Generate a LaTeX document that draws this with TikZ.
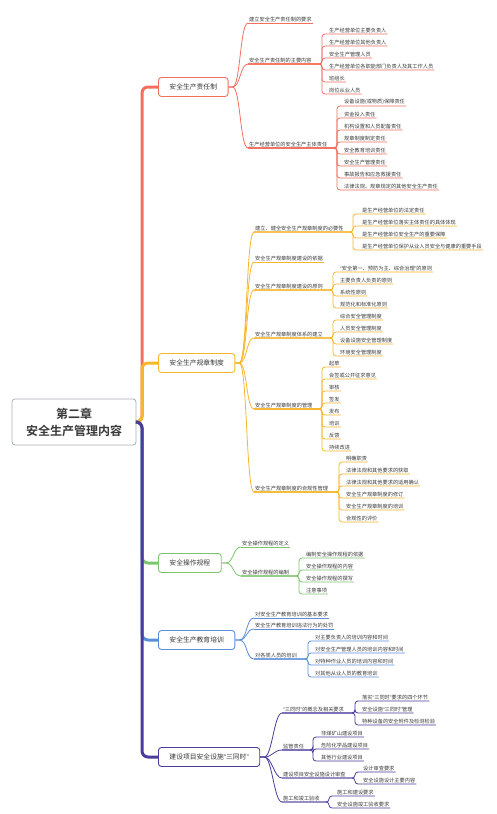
\documentclass[tikz,border=0pt]{standalone}
\usepackage{fontspec}
\setmainfont{Noto Sans CJK SC}[BoldFont={Noto Sans CJK SC Bold}]
\newfontfamily\quotefont{Liberation Sans}
\newcommand{\qopen}{{\quotefont “}}
\newcommand{\qclose}{{\quotefont ”}}
\definecolor{ink}{HTML}{3A3A3A}
\definecolor{rootgray}{HTML}{A9AEB5}
\definecolor{redc}{HTML}{F26E5F}
\definecolor{orangec}{HTML}{F7B52C}
\definecolor{greenc}{HTML}{7DC46F}
\definecolor{bluec}{HTML}{5B8ED9}
\definecolor{purplec}{HTML}{4B3B9B}

\begin{document}
\begin{tikzpicture}[
    x=1pt, y=-1pt,
    root/.style={draw=rootgray, fill=white, rounded corners=3pt, line width=0.8pt, minimum width=124pt, minimum height=46pt, align=center, text=ink, font=\fontsize{12}{17}\selectfont\bfseries},
    branch/.style={draw=#1, fill=white, rounded corners=3pt, line width=0.9pt, minimum height=19pt, minimum width=60pt, inner xsep=11pt, anchor=west, text=ink, font=\fontsize{6.8}{8}\selectfont},
    topic/.style={anchor=south west, inner xsep=1pt, inner ysep=1.2pt, text=ink, font=\fontsize{5.2}{6}\selectfont},
    trunk/.style={draw=#1, line width=3pt, rounded corners=6pt},
    curve/.style={draw=#1, line width=0.8pt},
    link/.style={draw=#1, line width=0.8pt, rounded corners=3pt}
]
    \useasboundingbox (0,0) rectangle (496,814);

    % Root and main branches
    \node[root] (root) at (74,422) {第二章\\安全生产管理内容};
    \node[branch=redc] (duty) at (158,87) {安全生产责任制};
    \node[branch=orangec] (rules) at (158,363) {安全生产规章制度};
    \node[branch=greenc] (ops) at (158,563) {安全操作规程};
    \node[branch=bluec] (edu) at (158,640) {安全生产教育培训};
    \node[branch=purplec] (tri) at (158,757) {建设项目安全设施\qopen 三同时\qclose};

    \draw[trunk=redc] (root.east) -- (142,422) |- (duty.west);
    \draw[trunk=orangec] (root.east) -- (142,422) |- (rules.west);
    \draw[trunk=greenc] (root.east) -- (142,422) |- (ops.west);
    \draw[trunk=bluec] (root.east) -- (142,422) |- (edu.west);
    \draw[trunk=purplec] (root.east) -- (142,422) |- (tri.west);

    % 安全生产责任制
    \node[topic] (duty1) at (248,23) {建立安全生产责任制的要求};
    \node[topic] (duty2) at (248,64) {安全生产责任制的主要内容};
    \node[topic] (duty3) at (248,148) {生产经营单位的安全生产主体责任};
    \node[topic] (duty2a) at (328,34) {生产经营单位主要负责人};
    \node[topic] (duty2b) at (328,46) {生产经营单位其他负责人};
    \node[topic] (duty2c) at (328,58) {安全生产管理人员};
    \node[topic] (duty2d) at (328,70) {生产经营单位各职能部门负责人及其工作人员};
    \node[topic] (duty2e) at (328,82) {班组长};
    \node[topic] (duty2f) at (328,94) {岗位从业人员};
    \node[topic] (duty3a) at (343,106) {设备设施(或物质)保障责任};
    \node[topic] (duty3b) at (343,118) {资金投入责任};
    \node[topic] (duty3c) at (343,130) {机构设置和人员配备责任};
    \node[topic] (duty3d) at (343,142) {规章制度制定责任};
    \node[topic] (duty3e) at (343,154) {安全教育培训责任};
    \node[topic] (duty3f) at (343,166) {安全生产管理责任};
    \node[topic] (duty3g) at (343,178) {事故报告和应急救援责任};
    \node[topic] (duty3h) at (343,190) {法律法规、规章规定的其他安全生产责任};

    \foreach \t in {duty1,duty2,duty3}
        \draw[curve=redc] (duty.east) -- ++(4,0) .. controls +(8,0) and +(-8,0) .. (\t.south west);
    \draw[link=redc] (duty1.south west) -- (duty1.south east);
    \foreach \t in {duty2a,duty2b,duty2c,duty2d,duty2e,duty2f}
        \draw[link=redc] (duty2.south west) -- (322,64) |- (\t.south east);
    \foreach \t in {duty3a,duty3b,duty3c,duty3d,duty3e,duty3f,duty3g,duty3h}
        \draw[link=redc] (duty3.south west) -- (337,148) |- (\t.south east);

    % 安全生产规章制度
    \node[topic] (rules1) at (254,232) {建立、健全安全生产规章制度的必要性};
    \node[topic] (rules2) at (254,262) {安全生产规章制度建设的依据};
    \node[topic] (rules3) at (254,290) {安全生产规章制度建设的原则};
    \node[topic] (rules4) at (254,338) {安全生产规章制度体系的建立};
    \node[topic] (rules5) at (254,409) {安全生产规章制度的管理};
    \node[topic] (rules6) at (254,492) {安全生产规章制度的合规性管理};
    \node[topic] (rules1a) at (361,214) {是生产经营单位的法定责任};
    \node[topic] (rules1b) at (361,226) {是生产经营单位落实主体责任的具体体现};
    \node[topic] (rules1c) at (361,238) {是生产经营单位安全生产的重要保障};
    \node[topic] (rules1d) at (361,250) {是生产经营单位保护从业人员安全与健康的重要手段};
    \node[topic] (rules3a) at (339,272) {\qopen 安全第一、预防为主、综合治理\qclose 的原则};
    \node[topic] (rules3b) at (339,284) {主要负责人负责的原则};
    \node[topic] (rules3c) at (339,296) {系统性原则};
    \node[topic] (rules3d) at (339,308) {规范化和标准化原则};
    \node[topic] (rules4a) at (339,320) {综合安全管理制度};
    \node[topic] (rules4b) at (339,332) {人员安全管理制度};
    \node[topic] (rules4c) at (339,344) {设备设施安全管理制度};
    \node[topic] (rules4d) at (339,356) {环境安全管理制度};
    \node[topic] (rules5a) at (328,367) {起草};
    \node[topic] (rules5b) at (328,379) {会签或公开征求意见};
    \node[topic] (rules5c) at (328,391) {审核};
    \node[topic] (rules5d) at (328,403) {签发};
    \node[topic] (rules5e) at (328,415) {发布};
    \node[topic] (rules5f) at (328,427) {培训};
    \node[topic] (rules5g) at (328,439) {反馈};
    \node[topic] (rules5h) at (328,451) {持续改进};
    \node[topic] (rules6a) at (345,462) {明确职责};
    \node[topic] (rules6b) at (345,474) {法律法规和其他要求的获取};
    \node[topic] (rules6c) at (345,486) {法律法规和其他要求的适用确认};
    \node[topic] (rules6d) at (345,498) {安全生产规章制度的修订};
    \node[topic] (rules6e) at (345,510) {安全生产规章制度的培训};
    \node[topic] (rules6f) at (345,522) {合规性的评价};

    \foreach \t in {rules1,rules2,rules3,rules4,rules5,rules6}
        \draw[curve=orangec] (rules.east) -- ++(4,0) .. controls +(8,0) and +(-8,0) .. (\t.south west);
    \draw[link=orangec] (rules2.south west) -- (rules2.south east);
    \foreach \t in {rules1a,rules1b,rules1c,rules1d}
        \draw[link=orangec] (rules1.south west) -- (353,232) |- (\t.south east);
    \foreach \t in {rules3a,rules3b,rules3c,rules3d}
        \draw[link=orangec] (rules3.south west) -- (333,290) |- (\t.south east);
    \foreach \t in {rules4a,rules4b,rules4c,rules4d}
        \draw[link=orangec] (rules4.south west) -- (333,338) |- (\t.south east);
    \foreach \t in {rules5a,rules5b,rules5c,rules5d,rules5e,rules5f,rules5g,rules5h}
        \draw[link=orangec] (rules5.south west) -- (322,409) |- (\t.south east);
    \foreach \t in {rules6a,rules6b,rules6c,rules6d,rules6e,rules6f}
        \draw[link=orangec] (rules6.south west) -- (339,492) |- (\t.south east);

    % 安全操作规程
    \node[topic] (ops1) at (241,547) {安全操作规程的定义};
    \node[topic] (ops2) at (241,576) {安全操作规程的编制};
    \node[topic] (ops2a) at (305,558) {编制安全操作规程的依据};
    \node[topic] (ops2b) at (305,570) {安全操作规程的内容};
    \node[topic] (ops2c) at (305,582) {安全操作规程的撰写};
    \node[topic] (ops2d) at (305,594) {注意事项};

    \foreach \t in {ops1,ops2}
        \draw[curve=greenc] (ops.east) -- ++(4,0) .. controls +(8,0) and +(-8,0) .. (\t.south west);
    \draw[link=greenc] (ops1.south west) -- (ops1.south east);
    \foreach \t in {ops2a,ops2b,ops2c,ops2d}
        \draw[link=greenc] (ops2.south west) -- (299,576) |- (\t.south east);

    % 安全生产教育培训
    \node[topic] (edu1) at (254,618) {对安全生产教育培训的基本要求};
    \node[topic] (edu2) at (254,629) {安全生产教育培训违法行为的处罚};
    \node[topic] (edu3) at (254,659) {对各类人员的培训};
    \node[topic] (edu3a) at (314,641) {对主要负责人的培训内容和时间};
    \node[topic] (edu3b) at (314,653) {对安全生产管理人员的培训内容和时间};
    \node[topic] (edu3c) at (314,665) {对特种作业人员的培训内容和时间};
    \node[topic] (edu3d) at (314,677) {对其他从业人员的教育培训};

    \foreach \t in {edu1,edu2,edu3}
        \draw[curve=bluec] (edu.east) -- ++(4,0) .. controls +(8,0) and +(-8,0) .. (\t.south west);
    \draw[link=bluec] (edu1.south west) -- (edu1.south east);
    \draw[link=bluec] (edu2.south west) -- (edu2.south east);
    \foreach \t in {edu3a,edu3b,edu3c,edu3d}
        \draw[link=bluec] (edu3.south west) -- (308,659) |- (\t.south east);

    % 建设项目安全设施“三同时”
    \node[topic] (tri1) at (282,713) {\qopen 三同时\qclose 的概念及相关要求};
    \node[topic] (tri2) at (282,750) {监管责任};
    \node[topic] (tri3) at (282,778) {建设项目安全设施设计审查};
    \node[topic] (tri4) at (282,802) {施工和竣工验收};
    \node[topic] (tri1a) at (361,701) {落实\qopen 三同时\qclose 要求的四个环节};
    \node[topic] (tri1b) at (361,713) {安全设施\qopen 三同时\qclose 管理};
    \node[topic] (tri1c) at (361,725) {特种设备的安全附件及检测检验};
    \node[topic] (tri2a) at (320,737) {非煤矿山建设项目};
    \node[topic] (tri2b) at (320,749) {危险化学品建设项目};
    \node[topic] (tri2c) at (320,761) {其他行业建设项目};
    \node[topic] (tri3a) at (362,772) {设计审查要求};
    \node[topic] (tri3b) at (362,784) {安全设施设计主要内容};
    \node[topic] (tri4a) at (336,796) {施工和建设要求};
    \node[topic] (tri4b) at (336,808) {安全设施竣工验收要求};

    \foreach \t in {tri1,tri2,tri3,tri4}
        \draw[curve=purplec] (tri.east) -- ++(4,0) .. controls +(8,0) and +(-8,0) .. (\t.south west);
    \foreach \t in {tri1a,tri1b,tri1c}
        \draw[link=purplec] (tri1.south west) -- (355,713) |- (\t.south east);
    \foreach \t in {tri2a,tri2b,tri2c}
        \draw[link=purplec] (tri2.south west) -- (313,750) |- (\t.south east);
    \foreach \t in {tri3a,tri3b}
        \draw[link=purplec] (tri3.south west) -- (355,778) |- (\t.south east);
    \foreach \t in {tri4a,tri4b}
        \draw[link=purplec] (tri4.south west) -- (329,802) |- (\t.south east);
\end{tikzpicture}
\end{document}
